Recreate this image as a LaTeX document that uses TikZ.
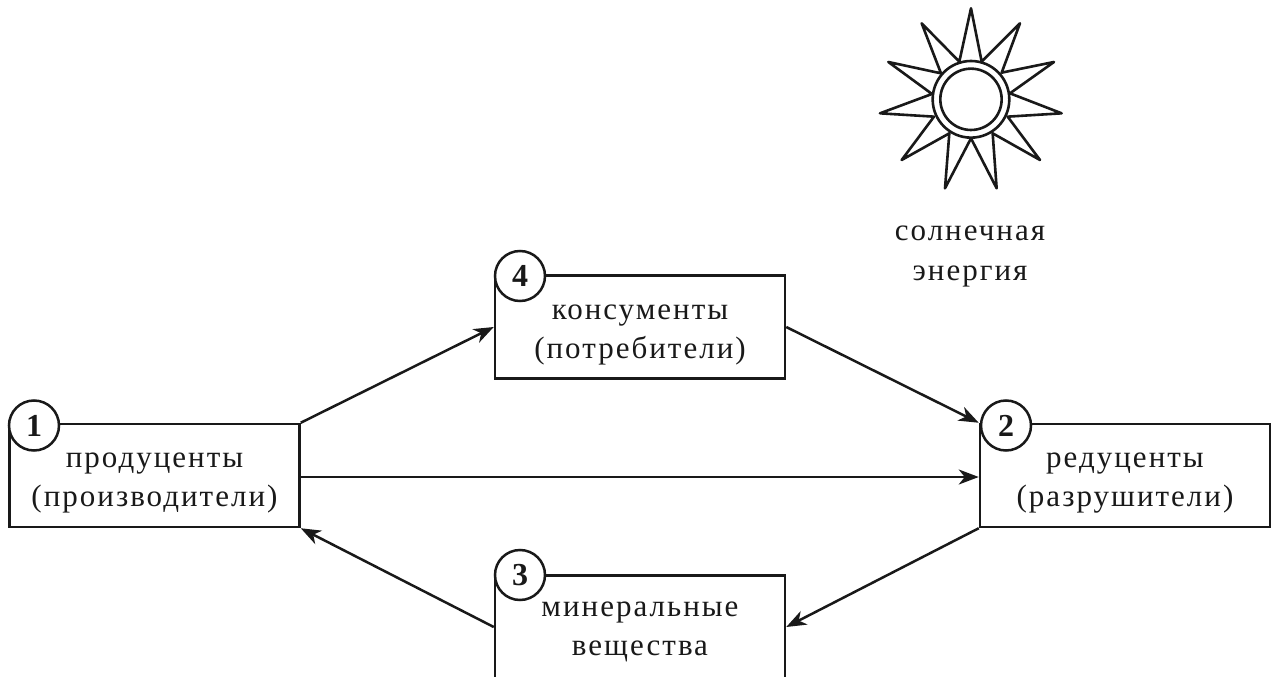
\documentclass[tikz,border=0pt]{standalone}
\usepackage{fontspec}
\setmainfont[LetterSpace=6.5]{Liberation Serif}
\newfontfamily\numfont{Liberation Serif}
\usepackage{tikz}
\usetikzlibrary{arrows.meta}
\definecolor{inkblack}{RGB}{25, 25, 25}
\tikzset{
  levelbox/.style={draw=inkblack, line width=2.5pt, fill=white, minimum width=290pt, minimum height=103pt, inner sep=0pt},
  levelname/.style={inner sep=0pt, align=center, font=\fontsize{31}{39.5}\selectfont, text=inkblack},
  levelnum/.style={circle, draw=inkblack, line width=2.5pt, fill=white, minimum size=50pt, inner sep=0pt, font=\numfont\bfseries\fontsize{32}{32}\selectfont, text=inkblack},
  flow/.style={draw=inkblack, line width=2.5pt, -{Stealth[length=20pt, width=15pt, inset=6pt]}},
  sunline/.style={draw=inkblack, line width=2.6pt, line join=round}
}

\begin{document}
\begin{tikzpicture}[x=1pt, y=-1pt]
\useasboundingbox (0,0) rectangle (1278,677);
\clip (0,0) rectangle (1278,677);

% boxes
\node[levelbox] (prod) at (154.5,475.5) {};
\node[levelname] (prodname) at (154.5,483) {продуценты\\(производители)};
\node[levelbox] (kons) at (640,327) {};
\node[levelname] (konsname) at (640,335) {консументы\\(потребители)};
\node[levelbox] (redu) at (1125,475.5) {};
\node[levelname] (reduname) at (1125,483) {редуценты\\(разрушители)};
\node[levelbox] (mine) at (640,627) {};
\node[levelname] (minename) at (640,632) {минеральные\\вещества};

% numbers
\node[levelnum] (n1) at (34,425.5) {1};
\node[levelnum] (n4) at (520,276) {4};
\node[levelnum] (n2) at (1006,425.5) {2};
\node[levelnum] (n3) at (520,575) {3};

% flows
\draw[flow] (prod.north east) -- (kons.west);
\draw[flow] (kons.east) -- (redu.north west);
\draw[flow] ([yshift=-1.5pt]prod.east) -- ([yshift=-1.5pt]redu.west);
\draw[flow] (redu.south west) -- (mine.east);
\draw[flow] (mine.west) -- (prod.south east);

% sun
\begin{scope}[shift={(860,0)}, x=0.3333pt, y=-0.3333pt]
\draw[sunline] (298,185) -- (333,25) -- (365,185) -- (480,70) -- (425,218) -- (582,186) -- (450,280)
  -- (605,340) -- (443,350) -- (540,480) -- (398,400) -- (410,565) -- (333,415) -- (255,565)
  -- (268,400) -- (125,480) -- (222,350) -- (60,340) -- (216,282) -- (85,186) -- (243,220) -- (185,70) -- cycle;
\draw[sunline, fill=white] (333,298) circle (115);
\draw[sunline] (333,298) circle (92);
\end{scope}
\node[levelname] (sunlabel) at (970,256.5) {солнечная\\энергия};
\end{tikzpicture}
\end{document}
